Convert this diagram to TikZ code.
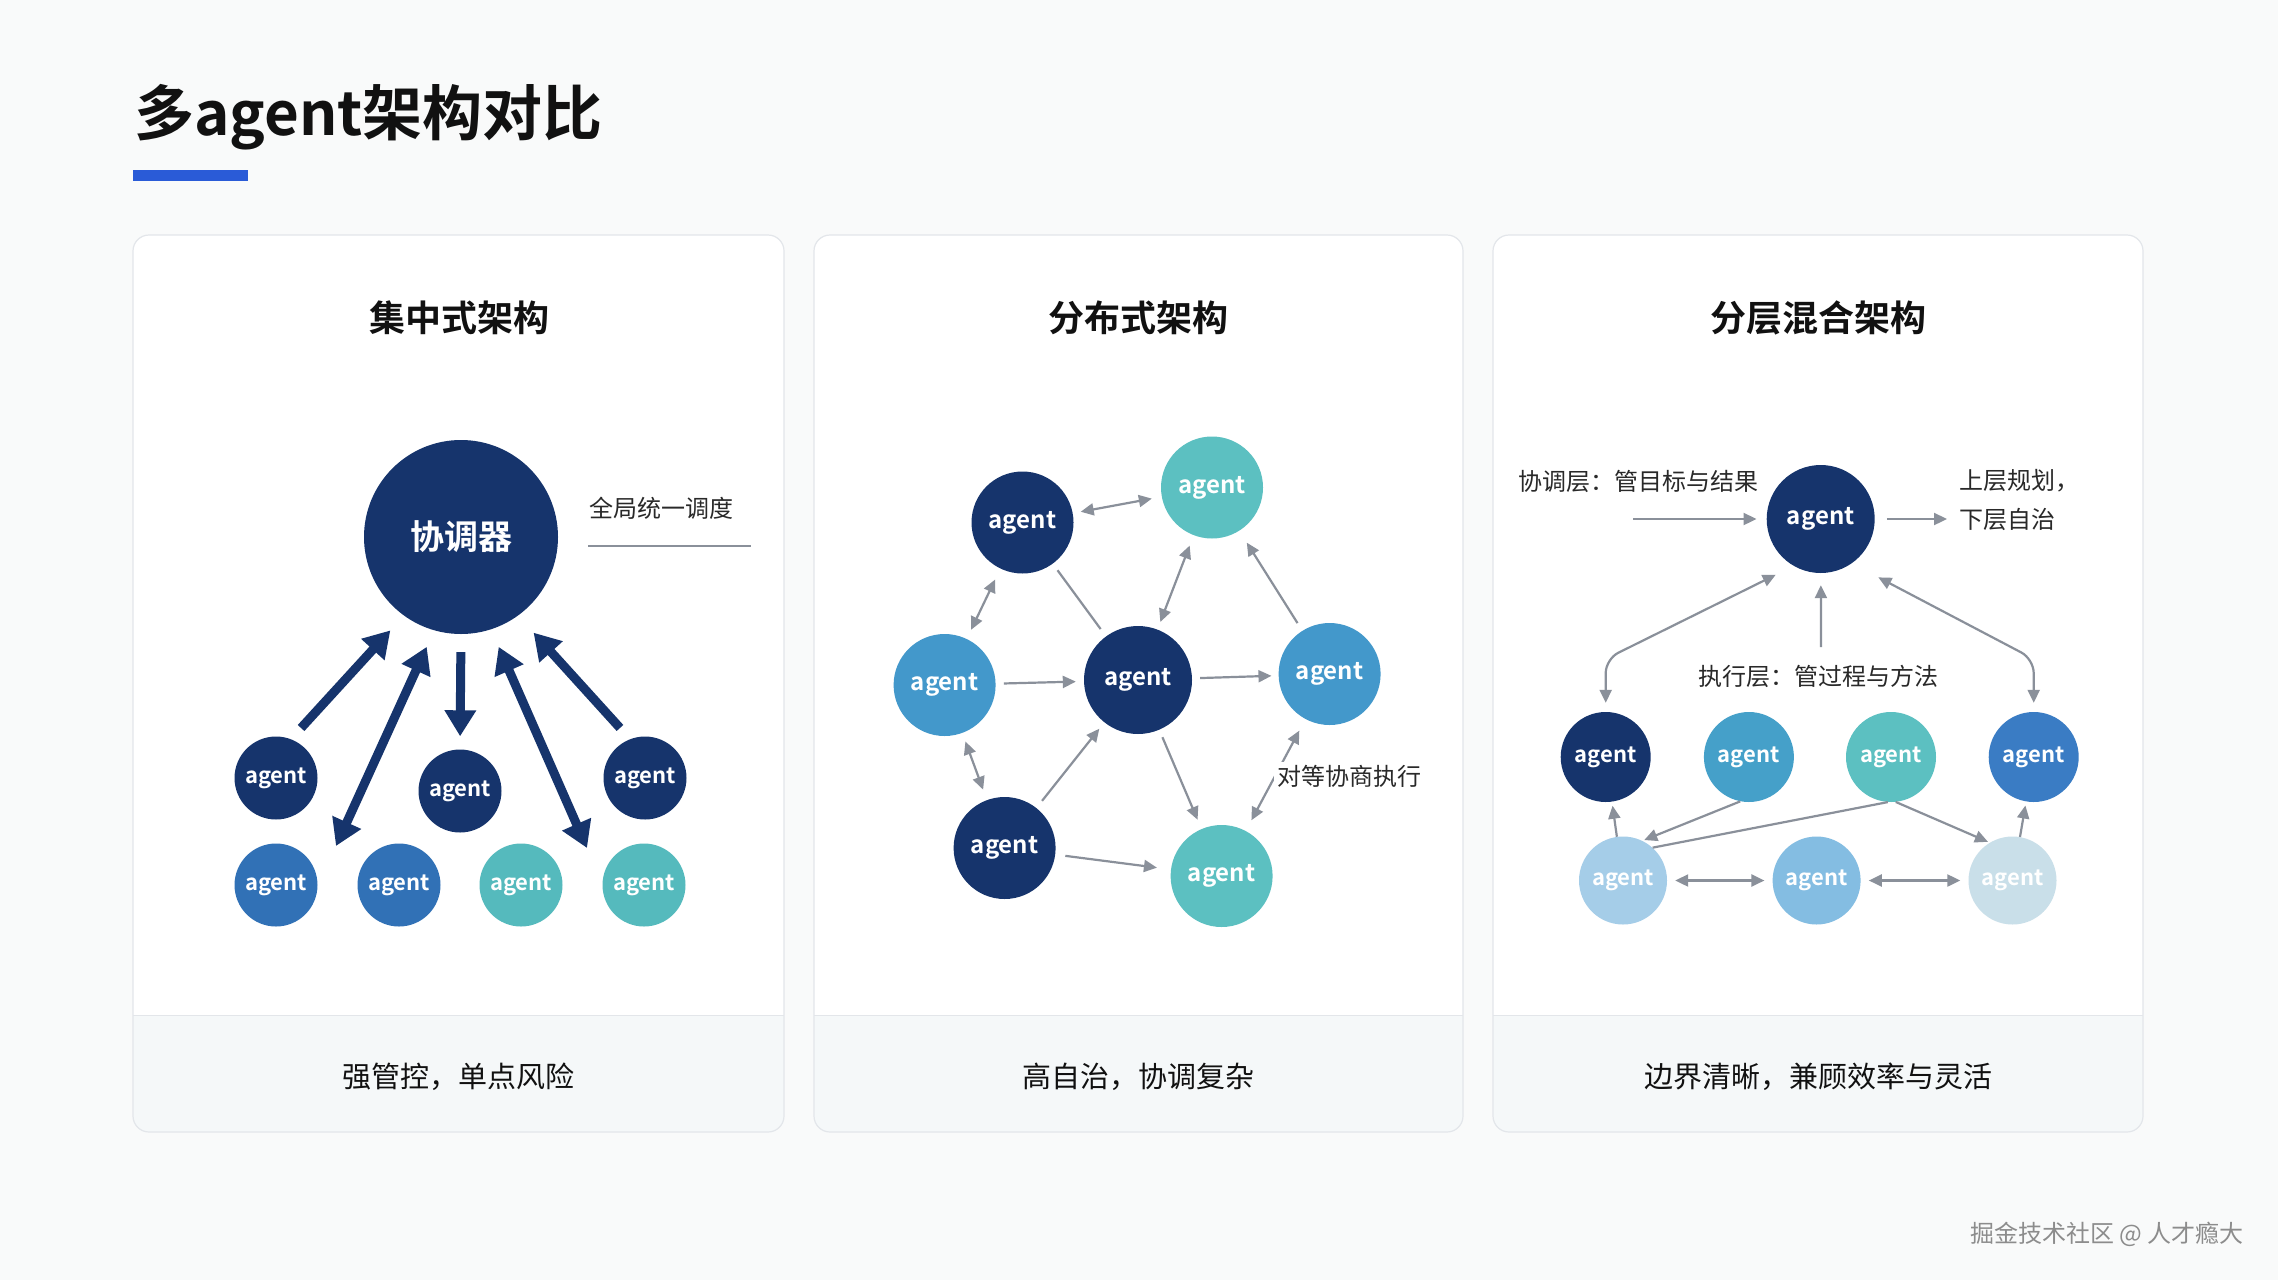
\documentclass[tikz,border=0pt]{standalone}
\usepackage{fontspec}
\setmainfont{Noto Sans CJK SC}[BoldFont={Noto Sans CJK SC Bold}]
\usetikzlibrary{arrows.meta}
\definecolor{bg}{HTML}{F9FAFA}
\definecolor{panelborder}{HTML}{E3E6EA}
\definecolor{footerfill}{HTML}{F5F8F9}
\definecolor{navy}{HTML}{16346C}
\definecolor{blueA}{HTML}{3171B6}
\definecolor{tealA}{HTML}{55BABD}
\definecolor{tealB}{HTML}{5CC0C1}
\definecolor{blueB}{HTML}{4398CB}
\definecolor{blueC}{HTML}{45A0C9}
\definecolor{blueD}{HTML}{3A7CC4}
\definecolor{lightA}{HTML}{A5CDE8}
\definecolor{lightB}{HTML}{84BDE2}
\definecolor{lightC}{HTML}{C9DFE9}
\definecolor{arrgray}{HTML}{8A909A}
\definecolor{accent}{HTML}{2A5BD7}
\definecolor{txt}{HTML}{111111}
\begin{document}
\begin{tikzpicture}[x=1pt,y=-1pt,
  bigtip/.tip={Triangle[length=26pt,width=30pt]},
  gtip/.tip={Triangle[length=13pt,width=12pt]},
  panel/.style={draw=panelborder, line width=1.2pt, rounded corners=16pt},
  ag/.style={circle, inner sep=0pt, minimum size=#1, text=white, font=\bfseries\fontsize{22}{26}\selectfont},
  agl/.style={ag=#1, font=\bfseries\fontsize{24}{28}\selectfont},
  ptitle/.style={inner sep=0pt, text=txt, font=\bfseries\fontsize{36}{40}\selectfont},
  foot/.style={inner sep=0pt, text=txt, font=\fontsize{29}{34}\selectfont},
  lbl/.style={inner sep=0pt, text=txt!90, font=\fontsize{24}{28}\selectfont},
  bigarr/.style={draw=navy, line width=9pt},
  garr/.style={draw=arrgray, line width=2.2pt},
]
\useasboundingbox (0,0) rectangle (2278,1280);
\fill[bg] (0,0) rectangle (2278,1280);

% title
\node[anchor=base west, inner sep=0pt, text=txt, font=\bfseries\fontsize{60}{66}\selectfont] (title) at (134,135) {多agent架构对比};
\fill[accent] (133,170) rectangle (248,181);

% panels
\foreach \xa/\xb in {133/784, 814/1463, 1493/2143}{
  \begin{scope}
    \clip[rounded corners=16pt] (\xa,235) rectangle (\xb,1132);
    \fill[white] (\xa,235) rectangle (\xb,1132);
    \fill[footerfill] (\xa,1015) rectangle (\xb,1132);
    \draw[panelborder, line width=1pt] (\xa,1015) -- (\xb,1015);
  \end{scope}
  \draw[panel] (\xa,235) rectangle (\xb,1132);
}

% ---------- panel 1 ----------
\node[ptitle] (t1) at (459,318) {集中式架构};
\node[circle, inner sep=0pt, minimum size=194pt, fill=navy, text=white, font=\bfseries\fontsize{34}{38}\selectfont] (co) at (461,537) {协调器};
\node[lbl] (gl) at (661,508) {全局统一调度};
\draw[arrgray, line width=1.5pt] (588,546) -- (751,546);

\node[ag=83pt, fill=navy] (a1) at (276,778) {agent};
\node[ag=83pt, fill=navy] (a2) at (460,791) {agent};
\node[ag=83pt, fill=navy] (a3) at (645,778) {agent};
\node[ag=83pt, fill=blueA] (b1) at (276,885) {agent};
\node[ag=83pt, fill=blueA] (b2) at (399,885) {agent};
\node[ag=83pt, fill=tealA] (b3) at (521,885) {agent};
\node[ag=83pt, fill=tealA] (b4) at (644,885) {agent};

\coordinate (p2) at (336,846);
\coordinate (p4) at (587,848);
\draw[bigarr, -bigtip, shorten <=15pt, shorten >=20pt] (a1.69) -- (co.234);
\draw[bigarr, bigtip-bigtip, shorten <=18pt] (co.254) -- (p2);
\draw[bigarr, -bigtip, shorten <=18pt, shorten >=13pt] (co.270) -- (a2.90);
\draw[bigarr, bigtip-bigtip, shorten <=19pt] (co.288) -- (p4);
\draw[bigarr, -bigtip, shorten <=15pt, shorten >=23pt] (a3.111) -- (co.306);

\node[foot] (f1) at (458.5,1077) {强管控，单点风险};

% ---------- panel 2 ----------
\node[ptitle] (t2) at (1138,318) {分布式架构};
\node[agl=102pt, fill=navy] (A) at (1022.5,522.5) {agent};
\node[agl=102pt, fill=tealB] (B) at (1212,487.5) {agent};
\node[agl=102pt, fill=blueB] (C) at (944.6,685) {agent};
\node[agl=108pt, fill=navy] (D) at (1138,680) {agent};
\node[agl=102pt, fill=blueB] (E) at (1329.6,674) {agent};
\node[agl=102pt, fill=navy] (F) at (1004.6,848) {agent};
\node[agl=102pt, fill=tealB] (G) at (1221.6,876) {agent};

\draw[garr, gtip-gtip, shorten <=8pt, shorten >=10pt] (A) -- (B);
\draw[garr, shorten <=8pt, shorten >=9pt] (A) -- (D);
\draw[garr, gtip-gtip, shorten <=8pt, shorten >=11pt] (D) -- (B);
\draw[garr, -gtip, shorten <=9pt, shorten >=14pt] (E) -- (B);
\draw[garr, gtip-gtip, shorten <=12pt, shorten >=10pt] (A) -- (C);
\draw[garr, -gtip, shorten <=8pt, shorten >=8pt] (C) -- (D);
\draw[garr, -gtip, shorten <=8pt, shorten >=7pt] (D) -- (E);
\draw[garr, gtip-gtip, shorten <=9pt, shorten >=11pt] (C) -- (F);
\draw[garr, -gtip, shorten <=9pt, shorten >=8pt] (F) -- (D);
\draw[garr, -gtip, shorten <=8pt, shorten >=10pt] (D) -- (G);
\draw[garr, -gtip, shorten <=10pt, shorten >=14pt] (F) -- (G);
\draw[garr, gtip-gtip, shorten <=13pt, shorten >=12pt] (E) -- (G);
\node[lbl, fill=white, inner sep=3pt] (peer) at (1349,776) {对等协商执行};

\node[foot] (f2) at (1138.5,1077) {高自治，协调复杂};

% ---------- panel 3 ----------
\node[ptitle] (t3) at (1818,318) {分层混合架构};
\node[agl=108pt, fill=navy] (T) at (1820.7,519) {agent};
\node[lbl, anchor=west] (cl) at (1518,481) {协调层：管目标与结果};
\node[lbl, anchor=west, align=left, font=\fontsize{24}{38.6}\selectfont] (ul) at (1959,500) {上层规划，\\下层自治};
\coordinate (l0) at (1633,519);
\coordinate (r0) at (1947,519);
\draw[garr, -gtip, shorten >=10pt] (l0) -- (T);
\draw[garr, -gtip, shorten <=12pt] (T) -- (r0);

\node[lbl] (el) at (1818,676) {执行层：管过程与方法};

\node[ag=90pt, fill=navy] (E1) at (1605.7,757) {agent};
\node[ag=90pt, fill=blueC] (E2) at (1748.9,757) {agent};
\node[ag=90pt, fill=tealB] (E3) at (1891,757) {agent};
\node[ag=90pt, fill=blueD] (E4) at (2033.7,757) {agent};
\node[ag=88pt, fill=lightA] (B1) at (1623,880.5) {agent};
\node[ag=88pt, fill=lightB] (B2) at (1816.6,880.5) {agent};
\node[ag=88pt, fill=lightC] (B3) at (2012.5,880.5) {agent};

\coordinate (m0) at (1821,647);
\draw[garr, -gtip, shorten >=12pt] (m0) -- (T);
\draw[garr, gtip-gtip, rounded corners=14pt, shorten <=20pt, shorten >=9pt] (T.240) -- (E1.north |- 0,659) -- (E1.north);
\draw[garr, gtip-gtip, rounded corners=14pt, shorten <=30pt, shorten >=9pt] (T.305) -- (E4.north |- 0,659) -- (E4.north);

\draw[garr, -gtip, shorten >=4pt] (B1) -- (E1);
\draw[garr, -gtip, shorten >=4pt] (B3) -- (E4);
\draw[garr, -gtip, shorten >=2pt] (E2.259) -- (B1.64);
\draw[garr] (E3.266) -- (B1.48);
\draw[garr, -gtip, shorten >=2pt] (E3.276) -- (B3.121);
\draw[garr, gtip-gtip, shorten <=8pt, shorten >=8pt] (B1) -- (B2);
\draw[garr, gtip-gtip, shorten <=8pt, shorten >=8pt] (B2) -- (B3);

\node[foot] (f3) at (1818,1077) {边界清晰，兼顾效率与灵活};

% watermark
\node[anchor=east, inner sep=0pt, text=black!45, font=\fontsize{24}{28}\selectfont] (wm) at (2244,1234) {掘金技术社区 @ 人才瘾大};
\end{tikzpicture}
\end{document}
